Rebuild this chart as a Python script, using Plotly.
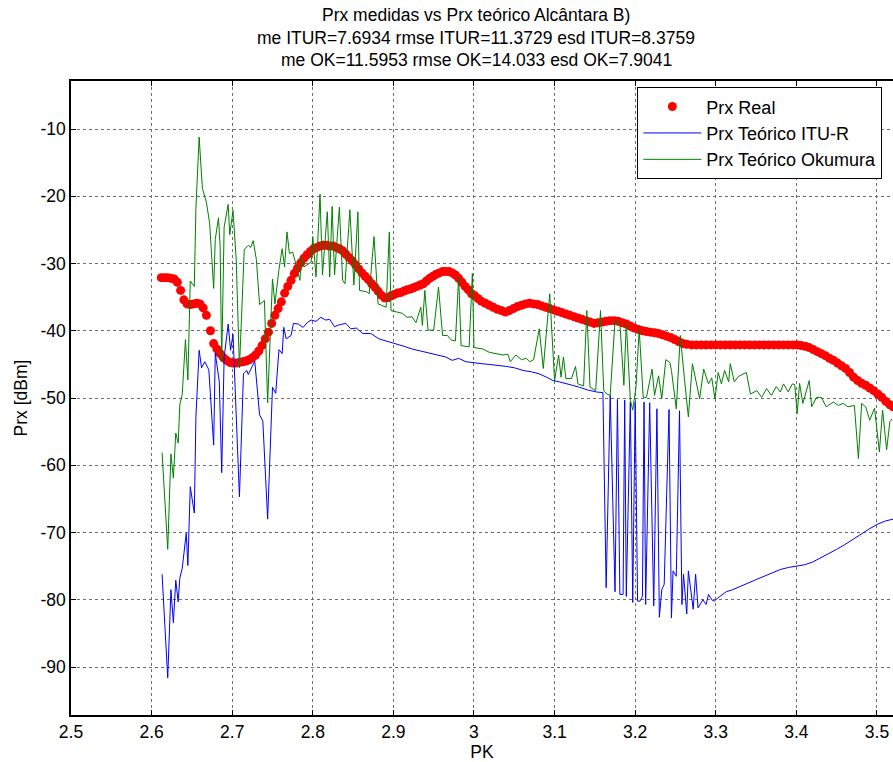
import plotly.graph_objects as go

# ---------------- data ----------------
real_pk = [2.612,2.616,2.620,2.624,2.628,2.632,2.636,2.640,2.644,2.648,2.652,2.656,2.660,2.664,2.668,2.673,2.677,2.681,2.685,2.689,
           2.693,2.697,2.701,2.705,2.709,2.713,2.717,2.721,2.725,2.729,2.733,2.737,2.741,2.745,2.749,2.753,2.757,2.761,2.765,2.769,
           2.773,2.777,2.781,2.785,2.789,2.793,2.797,2.801,2.805,2.809,2.813,2.817,2.821,2.825,2.829,2.833,2.837,2.841,2.845,2.849,
           2.853,2.857,2.861,2.865,2.869,2.873,2.877,2.881,2.885,2.889,2.893,2.897,2.901,2.905,2.909,2.913,2.917,2.921,2.925,2.929,
           2.933,2.937,2.941,2.945,2.949,2.953,2.957,2.961,2.965,2.969,2.973,2.977,2.981,2.985,2.989,2.993,2.997,3.001,3.005,3.009,
           3.014,3.019,3.024,3.029,3.034,3.039,3.044,3.049,3.054,3.059,3.064,3.069,3.074,3.079,3.084,3.089,3.094,3.099,3.104,3.109,
           3.114,3.119,3.124,3.129,3.134,3.139,3.144,3.149,3.154,3.159,3.164,3.169,3.174,3.179,3.184,3.189,3.194,3.199,3.204,3.209,
           3.214,3.219,3.224,3.229,3.234,3.239,3.244,3.249,3.254,3.259,3.264,3.270,3.276,3.282,3.288,3.294,3.300,3.306,3.312,3.318,
           3.324,3.330,3.336,3.342,3.348,3.354,3.360,3.366,3.372,3.378,3.384,3.390,3.396,3.401,3.406,3.411,3.416,3.421,3.426,3.431,
           3.436,3.441,3.446,3.451,3.456,3.461,3.466,3.471,3.476,3.481,3.486,3.491,3.496,3.501,3.506,3.511,3.516,3.520]
real_prx = [-32.1,-32.1,-32.1,-32.2,-32.3,-32.8,-34.0,-35.4,-36.0,-36.1,-36.0,-35.9,-36.0,-36.6,-37.7,-40.0,-41.9,-42.7,-43.4,-44.0,
            -44.4,-44.7,-44.8,-44.8,-44.7,-44.6,-44.5,-44.3,-44.0,-43.6,-43.0,-42.2,-41.2,-40.2,-38.9,-37.7,-36.7,-35.7,-34.4,-33.4,
            -32.5,-31.5,-30.7,-29.9,-29.2,-28.7,-28.2,-27.8,-27.6,-27.4,-27.3,-27.3,-27.4,-27.4,-27.6,-27.8,-28.1,-28.6,-29.1,-29.6,
            -30.2,-30.8,-31.4,-31.9,-32.4,-33.0,-33.5,-34.1,-34.7,-35.1,-35.1,-34.8,-34.6,-34.4,-34.3,-34.1,-33.9,-33.8,-33.6,-33.4,
            -33.2,-33.0,-32.6,-32.2,-31.9,-31.6,-31.4,-31.2,-31.2,-31.2,-31.4,-31.7,-32.2,-32.8,-33.4,-33.9,-34.5,-34.8,-35.2,-35.6,
            -35.9,-36.2,-36.5,-36.8,-37.0,-37.2,-37.0,-36.7,-36.4,-36.2,-36.0,-35.9,-36.0,-36.1,-36.3,-36.5,-36.7,-36.9,-37.1,-37.3,
            -37.5,-37.7,-37.9,-38.1,-38.3,-38.5,-38.7,-38.9,-38.8,-38.7,-38.6,-38.5,-38.5,-38.6,-38.8,-39.0,-39.3,-39.6,-39.8,-40.0,
            -40.1,-40.2,-40.3,-40.4,-40.6,-40.8,-41.0,-41.3,-41.6,-41.9,-42.0,-42.1,-42.1,-42.1,-42.1,-42.1,-42.1,-42.1,-42.1,-42.1,
            -42.1,-42.1,-42.1,-42.1,-42.1,-42.1,-42.1,-42.1,-42.1,-42.1,-42.1,-42.1,-42.1,-42.1,-42.2,-42.3,-42.5,-42.8,-43.1,-43.4,
            -43.7,-44.1,-44.4,-44.8,-45.2,-45.6,-46.2,-46.9,-47.4,-47.8,-48.1,-48.5,-48.9,-49.4,-49.9,-50.5,-51.0,-51.3]

itu_pk = [2.613,2.620,2.624,2.627,2.630,2.633,2.635,2.638,2.643,2.645,2.648,2.653,2.655,2.659,2.662,2.666,2.671,2.677,2.679,2.684,
          2.687,2.690,2.695,2.698,2.701,2.709,2.714,2.718,2.720,2.728,2.734,2.738,2.744,2.750,2.754,2.758,2.762,2.764,2.767,2.773,
          2.776,2.782,2.788,2.793,2.798,2.804,2.810,2.816,2.821,2.827,2.833,2.841,2.847,2.854,2.862,2.872,2.882,2.888,2.895,2.903,
          2.913,2.923,2.933,2.944,2.955,2.965,2.973,2.981,2.990,3.000,3.010,3.019,3.030,3.040,3.050,3.061,3.071,3.081,3.090,3.098,
          3.106,3.114,3.122,3.131,3.141,3.152,3.160,3.164,3.169,3.175,3.178,3.181,3.185,3.187,3.189,3.194,3.197,3.200,3.203,3.206,
          3.209,3.211,3.213,3.218,3.223,3.227,3.230,3.233,3.236,3.242,3.245,3.247,3.251,3.255,3.258,3.260,3.264,3.266,3.272,3.275,
          3.278,3.281,3.284,3.288,3.291,3.295,3.298,3.305,3.313,3.321,3.330,3.340,3.350,3.360,3.370,3.380,3.390,3.400,3.410,3.420,
          3.430,3.440,3.450,3.460,3.470,3.480,3.490,3.500,3.510,3.520]
itu_prx = [-76.2,-91.6,-78.5,-83.4,-77.1,-80.3,-76.8,-75.3,-70.1,-74.9,-63.2,-67.1,-52.8,-42.9,-45.5,-44.6,-45.8,-57.0,-43.3,-47.6,
           -61.1,-44.0,-39.0,-42.9,-40.5,-64.7,-46.4,-45.9,-46.5,-44.5,-52.5,-53.4,-68.0,-48.4,-49.3,-42.8,-43.4,-39.5,-41.2,-40.7,
           -38.9,-39.0,-39.5,-38.8,-38.4,-38.6,-38.0,-38.4,-38.3,-39.4,-39.1,-38.9,-39.7,-39.6,-40.4,-40.4,-41.2,-41.4,-41.7,-41.9,
           -42.3,-42.7,-43.0,-43.3,-43.6,-43.9,-44.4,-44.1,-44.6,-44.8,-44.9,-45.0,-45.1,-45.3,-45.5,-45.9,-46.1,-46.4,-46.9,-47.4,
           -47.6,-47.9,-48.1,-48.4,-48.8,-49.1,-49.2,-78.2,-49.6,-78.8,-50.2,-79.2,-79.2,-50.3,-79.5,-50.6,-80.4,-50.6,-80.2,-80.2,
           -79.5,-50.6,-80.7,-50.7,-80.9,-51.6,-82.6,-78.5,-77.7,-51.7,-82.7,-75.7,-76.5,-51.9,-80.7,-76.2,-82.1,-75.7,-81.4,-76.2,
           -81.2,-80.6,-80.0,-80.7,-79.2,-80.0,-80.2,-79.5,-78.8,-78.5,-78.0,-77.5,-77.0,-76.5,-76.0,-75.5,-75.2,-75.0,-74.8,-74.4,
           -73.8,-73.2,-72.5,-71.8,-71.0,-70.3,-69.5,-68.8,-68.3,-68.0]

oku_pk = [2.613,2.620,2.624,2.627,2.630,2.633,2.635,2.638,2.642,2.645,2.648,2.653,2.655,2.659,2.663,2.668,2.672,2.677,2.679,2.683,
          2.685,2.687,2.690,2.695,2.697,2.701,2.705,2.709,2.715,2.720,2.723,2.726,2.730,2.734,2.740,2.744,2.750,2.753,2.758,2.762,
          2.765,2.768,2.771,2.775,2.780,2.784,2.786,2.789,2.798,2.800,2.804,2.809,2.812,2.818,2.821,2.824,2.827,2.833,2.837,2.840,
          2.846,2.851,2.856,2.858,2.867,2.870,2.876,2.881,2.891,2.895,2.897,2.903,2.911,2.917,2.923,2.928,2.934,2.936,2.939,2.943,
          2.950,2.956,2.961,2.967,2.972,2.977,2.981,2.984,2.994,2.998,3.000,3.011,3.019,3.036,3.042,3.045,3.052,3.059,3.065,3.069,
          3.074,3.081,3.086,3.094,3.100,3.105,3.108,3.111,3.114,3.121,3.126,3.129,3.136,3.140,3.144,3.151,3.157,3.161,3.165,3.169,
          3.175,3.181,3.186,3.189,3.194,3.197,3.201,3.205,3.210,3.214,3.221,3.224,3.229,3.233,3.238,3.243,3.245,3.251,3.256,3.261,
          3.266,3.271,3.276,3.280,3.285,3.291,3.295,3.299,3.303,3.307,3.311,3.316,3.318,3.323,3.328,3.338,3.343,3.351,3.357,3.363,
          3.369,3.375,3.380,3.384,3.390,3.395,3.398,3.401,3.404,3.408,3.416,3.419,3.425,3.431,3.437,3.446,3.452,3.458,3.464,3.472,
          3.477,3.481,3.486,3.491,3.497,3.503,3.507,3.512,3.516,3.519]
oku_prx = [-58.1,-72.5,-58.3,-61.9,-55.2,-56.7,-51.0,-49.5,-41.3,-47.3,-32.6,-33.4,-21.8,-11.2,-18.8,-20.9,-24.0,-33.7,-26.4,-23.2,
           -27.3,-44.6,-24.6,-21.2,-25.7,-22.1,-29.4,-45.5,-27.9,-27.3,-27.6,-26.6,-29.4,-36.1,-35.5,-50.7,-32.3,-36.0,-30.9,-27.8,
           -30.5,-25.3,-28.5,-28.3,-30.5,-32.5,-29.0,-30.5,-29.8,-26.0,-32.0,-19.7,-31.7,-22.3,-32.0,-21.5,-31.7,-21.6,-32.5,-33.0,
           -22.0,-33.2,-22.3,-34.0,-34.2,-34.5,-26.0,-36.0,-36.5,-25.3,-37.0,-37.2,-37.4,-38.0,-37.9,-38.8,-36.5,-39.2,-34.0,-39.9,
           -39.9,-33.5,-40.7,-40.7,-41.4,-41.5,-32.0,-42.2,-42.4,-31.5,-42.5,-42.7,-43.2,-43.6,-43.5,-44.6,-43.6,-44.3,-44.1,-44.6,
           -44.3,-39.7,-45.6,-34.5,-47.4,-43.6,-46.9,-43.9,-47.1,-47.1,-45.3,-47.9,-48.2,-37.0,-48.4,-48.9,-37.0,-48.9,-49.4,-49.6,
           -38.5,-38.8,-48.1,-38.8,-50.3,-51.8,-48.4,-39.8,-49.9,-49.9,-45.7,-49.6,-46.7,-50.1,-44.3,-44.7,-45.9,-51.6,-40.7,-47.0,
           -52.8,-44.9,-48.1,-50.1,-45.7,-47.9,-47.0,-50.1,-46.2,-47.9,-45.9,-47.6,-44.9,-47.6,-46.8,-46.2,-49.4,-48.9,-49.9,-48.6,
           -49.6,-48.3,-49.1,-47.9,-49.1,-47.9,-48.0,-52.3,-47.8,-50.8,-47.4,-51.3,-49.9,-49.9,-51.3,-50.6,-51.1,-50.8,-51.3,-51.1,
           -59.0,-50.8,-51.3,-53.3,-51.5,-58.0,-51.8,-57.7,-53.5,-53.1]

x_tickvals = [2.5,2.6,2.7,2.8,2.9,3.0,3.1,3.2,3.3,3.4,3.5]
x_ticktext = ["2.5","2.6","2.7","2.8","2.9","3","3.1","3.2","3.3","3.4","3.5"]
y_tickvals = [-90,-80,-70,-60,-50,-40,-30,-20,-10]
y_ticktext = ["-90","-80","-70","-60","-50","-40","-30","-20","-10"]

title_lines = ["Prx medidas vs Prx teórico Alcântara B)",
               "me ITUR=7.6934 rmse ITUR=11.3729 esd ITUR=8.3759",
               "me OK=11.5953 rmse OK=14.033 esd OK=7.9041"]

FONT = "Liberation Sans, Arial, sans-serif"
FS = 17.5

fig = go.Figure()
fig.add_trace(go.Scatter(x=real_pk, y=real_prx, mode="markers", name="Prx Real",
                         marker=dict(color="#ff0000", size=9, line=dict(width=0))))
fig.add_trace(go.Scatter(x=itu_pk, y=itu_prx, mode="lines", name="Prx Teórico ITU-R",
                         line=dict(color="#0000ff", width=1)))
fig.add_trace(go.Scatter(x=oku_pk, y=oku_prx, mode="lines", name="Prx Teórico Okumura",
                         line=dict(color="#008000", width=1)))

for i, t in enumerate(title_lines):
    fig.add_annotation(text=t, xref="paper", yref="paper", x=0.493, y=1,
                       yshift=66 - 22.5 * i, showarrow=False,
                       font=dict(family=FONT, size=FS, color="black"),
                       xanchor="center", yanchor="middle")

fig.update_layout(
    width=893, height=762,
    margin=dict(l=71, r=0, t=81, b=47),
    paper_bgcolor="white", plot_bgcolor="white",
    font=dict(family=FONT, size=FS, color="black"),
    showlegend=True,
    legend=dict(x=0.689, y=0.99, xanchor="left", yanchor="top",
                bgcolor="white", bordercolor="black", borderwidth=1,
                font=dict(family=FONT, size=18), tracegroupgap=0,
                itemwidth=58),
)
fig.update_xaxes(range=[2.5, 3.5199], tickvals=x_tickvals, ticktext=x_ticktext,
                 showgrid=True, gridcolor="#6f6f6f", griddash="dot", gridwidth=1,
                 zeroline=False, showline=True, linecolor="black", linewidth=1.5,
                 mirror="ticks", ticks="inside", ticklen=5, tickcolor="black",
                 title=dict(text="PK", font=dict(size=FS), standoff=9),
                 tickfont=dict(size=FS))
fig.update_yaxes(range=[-97.13, -2.86], tickvals=y_tickvals, ticktext=y_ticktext,
                 showgrid=True, gridcolor="#6f6f6f", griddash="dot", gridwidth=1,
                 zeroline=False, showline=True, linecolor="black", linewidth=1.5,
                 ticks="inside", ticklen=5, tickcolor="black",
                 title=dict(text="Prx [dBm]", font=dict(size=FS), standoff=8),
                 tickfont=dict(size=FS))

fig.write_html("out.html")
